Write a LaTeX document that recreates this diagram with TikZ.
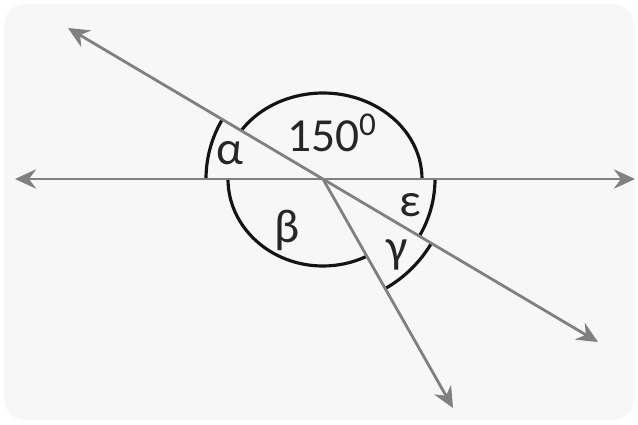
\documentclass[tikz,border=0pt]{standalone}
\usepackage{fontspec}
\setmainfont{Carlito}
\usetikzlibrary{arrows.meta, calc}
\colorlet{RayLine}{black!50}
\colorlet{ArcLine}{black!92}
\colorlet{PaperFill}{black!3}

\begin{document}
\begin{tikzpicture}[
    x=0.02cm, y=0.02cm,
    ray/.style={
        {Stealth[length=12pt, width=11pt, inset=4pt]}-{Stealth[length=12pt, width=11pt, inset=4pt]},
        draw=RayLine, line width=1.6pt
    },
    halfray/.style={
        -{Stealth[length=12pt, width=11pt, inset=4pt]},
        draw=RayLine, line width=1.6pt
    },
    angarc/.style={draw=ArcLine, line width=1.8pt},
    anglbl/.style={font=\fontsize{27}{29}\selectfont, text=black!85, inner sep=0pt}
]

% ===================================================================
% PAPER
% ===================================================================
\useasboundingbox (0,0) rectangle (638,424);
\fill[PaperFill, rounded corners=12pt] (4,4) rectangle (634,420);

% ===================================================================
% POINTS
% ===================================================================
\coordinate (O) at (323,245);
\coordinate (west) at (15,245);
\coordinate (east) at (635,245);
\coordinate (northwest) at (68,396);
\coordinate (southeast) at (598,82);
\coordinate (south) at (453,16);

% ===================================================================
% ANGLE ARCS
% ===================================================================
% alpha
\draw[angarc] ($(O)+(180:117)$) arc[start angle=180, end angle=149.4, radius=117];
% 150 degrees
\draw[angarc] ($(O)+(145.7:99 and 86)$)
    arc[start angle=145.7, end angle=0, x radius=99, y radius=86];
% beta
\draw[angarc] ($(O)+(180:95 and 87)$)
    arc[start angle=180, end angle=297.5, x radius=95, y radius=87];
% epsilon
\draw[angarc] ($(O)+(0:112)$) arc[start angle=0, end angle=-30.6, radius=112];
% gamma
\draw[angarc] ($(O)+(-30.6:126)$) arc[start angle=-30.6, end angle=-60.4, radius=126];

% ===================================================================
% LINES
% ===================================================================
\draw[ray] (west) -- (east);
\draw[ray] (northwest) -- (southeast);
\draw[halfray] (O) -- (south);

% ===================================================================
% LABELS
% ===================================================================
\node[anglbl] (alpha) at (230,271) {α};
\node[anglbl] (given) at (332,291) {150\textsuperscript{0}};
\node[anglbl] (beta) at (287,194) {β};
\node[anglbl] (eps) at (410,219) {ε};
\node[anglbl] (gamma) at (397,169) {γ};

\end{tikzpicture}
\end{document}
